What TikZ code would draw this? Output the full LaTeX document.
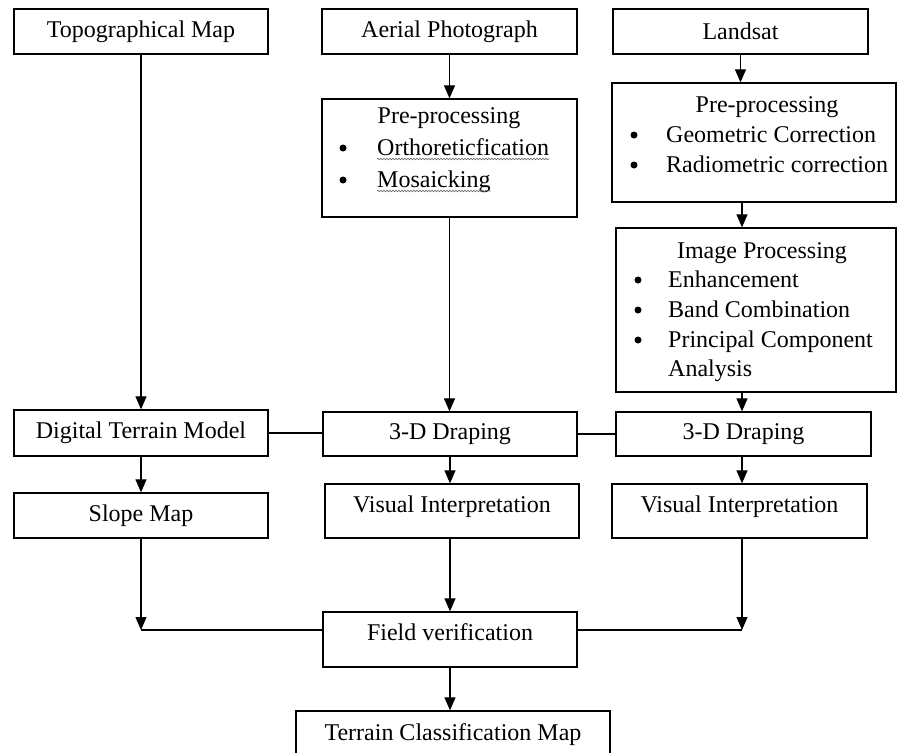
\documentclass[tikz,border=0pt]{standalone}
\usepackage{fontspec}
\setmainfont{Liberation Serif}
\usetikzlibrary{arrows.meta,decorations.pathmorphing}

\begin{document}
\begin{tikzpicture}
    [x=1pt,y=-1pt,
    font=\fontsize{24}{29}\selectfont,
    box/.style={shape=rectangle,draw=black,line width=1.3pt,inner sep=0pt},
    raised/.style={text height=17pt,text depth=15pt},
    head/.style={anchor=base,inner sep=0pt},
    item/.style={anchor=base west,inner sep=0pt},
    dot/.style={shape=circle,fill=black,inner sep=0pt,minimum size=7pt},
    arc/.style={-{Triangle[length=13pt,width=11pt]},line width=1.1pt},
    edge/.style={line width=1.1pt},
    squiggle/.style={draw=gray!80!black,line width=0.6pt,decorate,
      decoration={snake,amplitude=0.8pt,segment length=3pt}}]

    \clip (0,0) rectangle (898,753);
    \fill [white] (0,0) rectangle (898,753);

    % sources
    \node (topo) [box,minimum width=254pt,minimum height=45pt] at (141,31.5) {Topographical Map};
    \node (aerial) [box,minimum width=255pt,minimum height=45pt] at (449.5,31.5) {Aerial Photograph};
    \node (landsat) [box,minimum width=255pt,minimum height=45pt] at (740.5,31.5) {Landsat};

    % aerial pre-processing
    \node (pre1) [box,minimum width=255pt,minimum height=118pt] at (449.5,158) {};
    \node (pre1h) [head] at (449,123) {Pre-processing};
    \node (pre1b1) [dot] at (343,148) {};
    \node (pre1t1) [item] at (377,155) {Orthoreticfication};
    \node (pre1b2) [dot] at (343,180) {};
    \node (pre1t2) [item] at (377,187) {Mosaicking};

    % landsat pre-processing
    \node (pre2) [box,minimum width=284pt,minimum height=119pt] at (754,142.5) {};
    \node (pre2h) [head] at (767,112) {Pre-processing};
    \node (pre2b1) [dot] at (634,135) {};
    \node (pre2t1) [item] at (666,142) {Geometric Correction};
    \node (pre2b2) [dot] at (634,165) {};
    \node (pre2t2) [item] at (666,172) {Radiometric correction};

    % image processing
    \node (img) [box,minimum width=280pt,minimum height=164pt] at (756,310) {};
    \node (imgh) [head] at (762,258) {Image Processing};
    \node (imgb1) [dot] at (638,280) {};
    \node (imgt1) [item] at (668,287) {Enhancement};
    \node (imgb2) [dot] at (638,310) {};
    \node (imgt2) [item] at (668,317) {Band Combination};
    \node (imgb3) [dot] at (638,340) {};
    \node (imgt3) [item] at (668,347) {Principal Component};
    \node (imgt4) [item] at (668,376) {Analysis};

    % lower rows
    \node (dtm) [box,minimum width=254pt,minimum height=46pt] at (141,433) {Digital Terrain Model};
    \node (drape1) [box,minimum width=254pt,minimum height=44pt] at (450,434) {3-D Draping};
    \node (drape2) [box,minimum width=255pt,minimum height=44pt] at (743.5,434) {3-D Draping};
    \node (slope) [box,minimum width=254pt,minimum height=45pt] at (141,515.5) {Slope Map};
    \node (vis1) [box,raised,minimum width=254pt,minimum height=54pt] at (452,511) {Visual Interpretation};
    \node (vis2) [box,raised,minimum width=255pt,minimum height=54pt] at (739.5,511) {Visual Interpretation};
    \node (field) [box,raised,minimum width=254pt,minimum height=55pt] at (450,639.5) {Field verification};
    \node (terrain) [box,minimum width=314pt,minimum height=48pt] at (453,735) {Terrain Classification Map};

    \coordinate (jl) at (141,630);
    \coordinate (jr) at (742,630);

    % spell-check marks
    \draw [squiggle] ([yshift=-4pt]pre1t1.base west) -- ([yshift=-4pt]pre1t1.base east);
    \draw [squiggle] ([yshift=-4pt]pre1t2.base west) -- ([yshift=-4pt]pre1t2.base east);

    \draw [arc] (topo) -- (dtm);
    \draw [arc] (aerial) -- (pre1);
    \draw [arc] (pre1.south) -- (pre1.south |- drape1.north);
    \draw [arc] (landsat.south) -- (landsat.south |- pre2.north);
    \draw [arc] (pre2.south -| jr) -- (img.north -| jr);
    \draw [arc] (img.south -| jr) -- (drape2.north -| jr);
    \draw [edge] (dtm.east) -- (dtm.east -| drape1.west);
    \draw [edge] (drape1.east) -- (drape1.east -| drape2.west);
    \draw [arc] (dtm) -- (slope);
    \draw [arc] (drape1.south) -- (drape1.south |- vis1.north);
    \draw [arc] (drape2.south -| jr) -- (vis2.north -| jr);
    \draw [arc] (slope) -- (jl);
    \draw [edge] (jl) -- (jl -| field.west);
    \draw [arc] (vis1.south -| field.north) -- (field.north);
    \draw [arc] (vis2.south -| jr) -- (jr);
    \draw [edge] (field.east |- jr) -- (jr);
    \draw [arc] (field.south) -- (field.south |- terrain.north);
\end{tikzpicture}
\end{document}
